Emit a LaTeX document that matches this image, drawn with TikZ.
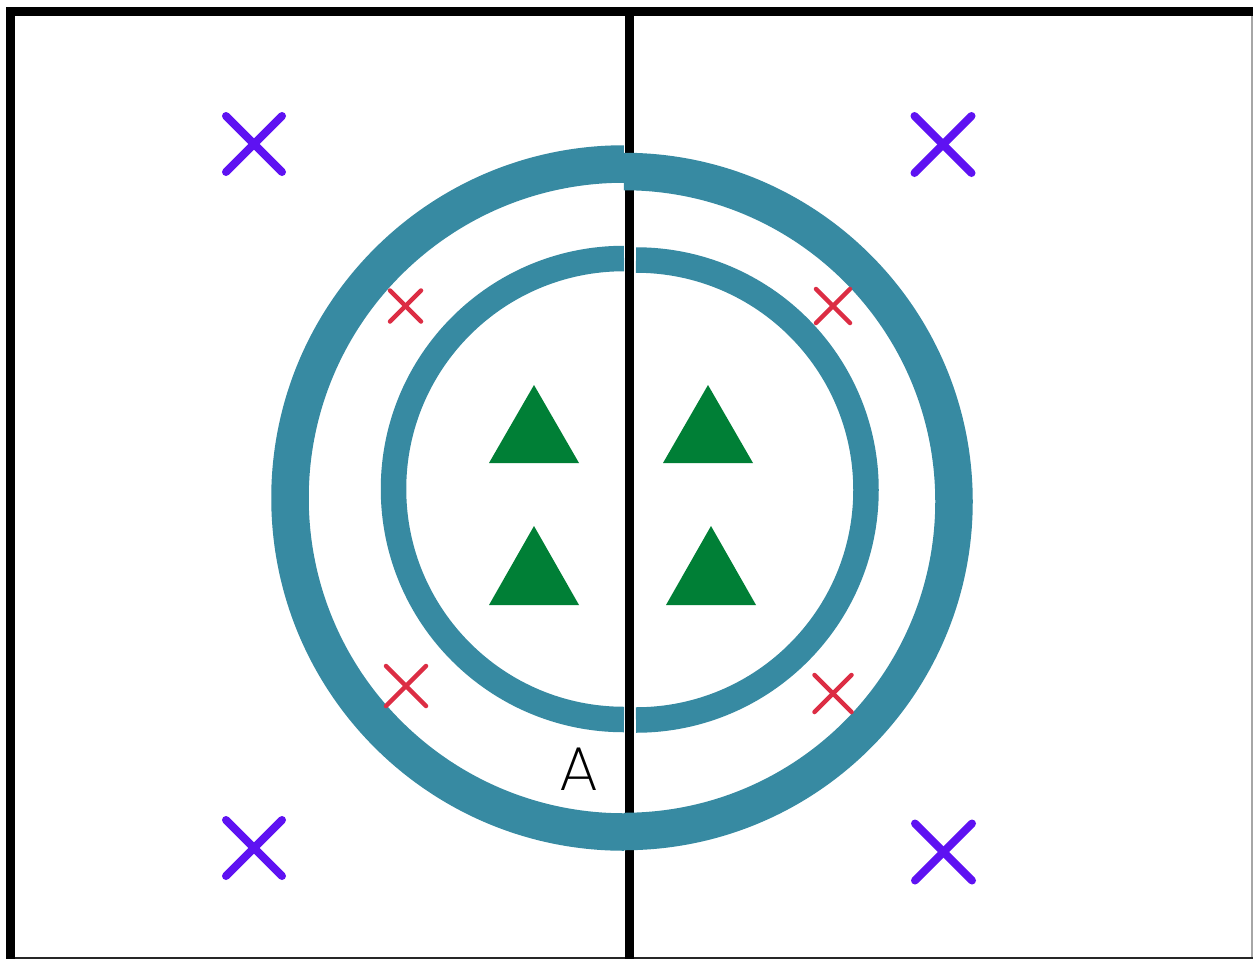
\documentclass[tikz,border=0pt]{standalone}
\usepackage{fontspec}
\newfontfamily\afont{Poppins}[UprightFont=* ExtraLight]
\definecolor{ringc}{HTML}{378AA2}
\definecolor{purp}{HTML}{5E12F2}
\definecolor{redx}{HTML}{DC2D44}
\definecolor{greent}{HTML}{007F36}
\tikzset{
  frame/.style={line width=9pt, black},
  outerring/.style={line width=37.5pt, ringc},
  innerring/.style={line width=25.5pt, ringc},
  bigx/.style={line width=8pt, purp, line cap=round},
  smallx/.style={line width=4.5pt, redx, line cap=round},
  tri/.style={fill=greent},
}
\newcommand{\crossat}[4]{% style, x, y, half
  \draw[#1] (#2-#4,#3-#4) -- (#2+#4,#3+#4);
  \draw[#1] (#2-#4,#3+#4) -- (#2+#4,#3-#4);
}
\begin{document}
\begin{tikzpicture}[x=1pt,y=-1pt]
\useasboundingbox (0,0) rectangle (1253,959);
\fill[white] (0,0) rectangle (1253,959);
% frame
\coordinate (tl) at (6,11.5);
\coordinate (tr) at (1253,11.5);
\coordinate (lt) at (10.5,7);
\coordinate (lb) at (10.5,959);
\draw[frame] (tl) -- (tr);
\draw[frame] (lt) -- (lb);
\coordinate (rt) at (1252.2,16);
\coordinate (rb) at (1252.2,959);
\draw[line width=1.5pt, black!35] (rt) -- (rb);
\coordinate (bl) at (15,958);
\coordinate (br) at (1253,958);
\draw[line width=2pt, black!85] (bl) -- (br);
% center line
\coordinate (ct) at (629.5,16);
\coordinate (cb) at (629.5,959);
\draw[frame] (ct) -- (cb);
% outer ring halves
\draw[outerring] (624,498) ++(90:334) arc[start angle=90, end angle=270, radius=334];
\draw[outerring] (624,501.5) ++(-90:330) arc[start angle=-90, end angle=90, radius=330];
% inner ring halves
\draw[innerring] (624,489) ++(90:230.5) arc[start angle=90, end angle=270, radius=230.5];
\draw[innerring] (636,490) ++(-90:230) arc[start angle=-90, end angle=90, radius=230];
% triangles
\fill[tri] (534,385) -- (579,463) -- (489,463) -- cycle;
\fill[tri] (534,526) -- (579,605) -- (489,605) -- cycle;
\fill[tri] (708,385) -- (753,463) -- (663,463) -- cycle;
\fill[tri] (711,526) -- (756,605) -- (666,605) -- cycle;
% purple crosses
\crossat{bigx}{254}{144}{28}
\crossat{bigx}{943}{144.5}{28.5}
\crossat{bigx}{254}{848}{28}
\crossat{bigx}{943.5}{852}{28.5}
% red crosses
\crossat{smallx}{405.5}{306}{15.5}
\crossat{smallx}{833}{306}{17}
\crossat{smallx}{406}{686}{20}
\crossat{smallx}{833}{693.5}{18.5}
% label
\node[inner sep=0pt, anchor=base, font=\afont\fontsize{62}{62}\selectfont] (labA) at (579,790) {A};
\end{tikzpicture}
\end{document}
